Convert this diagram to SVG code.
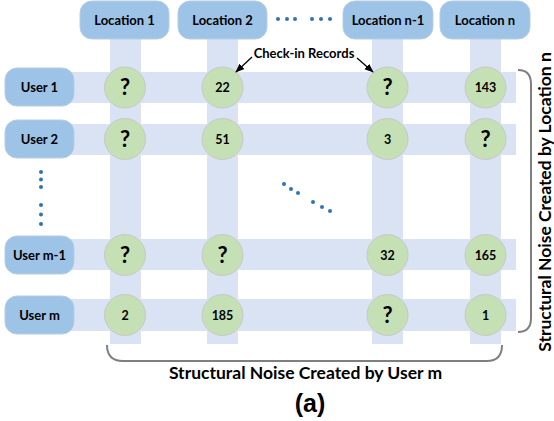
<svg xmlns="http://www.w3.org/2000/svg" width="554" height="421" viewBox="0 0 554 421">
  <defs>
    <style>
      .band { fill: #dae3f3; }
      .box { fill: #9dc3e6; stroke: #b8cde3; stroke-width: 1; }
      .cell { fill: #c5e0b4; stroke: #c8c8c8; stroke-width: 1; }
      .lbl { font-family: Lato, "Liberation Sans", sans-serif; font-weight: bold; font-size: 13px; fill: #000; text-anchor: middle; }
      .num { font-family: Lato, "Liberation Sans", sans-serif; font-weight: bold; font-size: 12.5px; fill: #000; text-anchor: middle; }
      .q { font-family: Lato, "Liberation Sans", sans-serif; font-weight: bold; font-size: 22px; fill: #000; text-anchor: middle; }
      .dot { fill: #2e75b6; }
      .brace { fill: none; stroke: #7f7f7f; stroke-width: 2; }
      .ptr { fill: none; stroke: #000; stroke-width: 1.3; marker-end: url(#head); }
      .cap { font-family: Lato, "Liberation Sans", sans-serif; font-weight: bold; font-size: 17.5px; fill: #000; text-anchor: middle; }
    </style>
    <marker id="head" viewBox="0 0 10 10" refX="9" refY="5" markerWidth="7" markerHeight="7" orient="auto">
      <path d="M0,1 L10,5 L0,9 Z" fill="#000"/>
    </marker>
  </defs>

  <!-- row and column bands -->
  <g id="bands">
    <rect class="band" x="110" y="38" width="31" height="306"/>
    <rect class="band" x="207" y="38" width="31" height="306"/>
    <rect class="band" x="372" y="38" width="31" height="306"/>
    <rect class="band" x="470" y="38" width="31" height="306"/>
    <rect class="band" x="40" y="72" width="476" height="31"/>
    <rect class="band" x="40" y="124" width="476" height="31"/>
    <rect class="band" x="40" y="239" width="476" height="31"/>
    <rect class="band" x="40" y="299" width="476" height="32"/>
  </g>

  <!-- location headers -->
  <g id="loc1"><rect class="box" x="80" y="1" width="89" height="38" rx="12"/><text class="lbl" x="124.5" y="25">Location 1</text></g>
  <g id="loc2"><rect class="box" x="178" y="1" width="89" height="38" rx="12"/><text class="lbl" x="222.5" y="25">Location 2</text></g>
  <g id="locn1"><rect class="box" x="343" y="1" width="90" height="38" rx="12"/><text class="lbl" x="388" y="25">Location n-1</text></g>
  <g id="locn"><rect class="box" x="440" y="1" width="90" height="38" rx="12"/><text class="lbl" x="485" y="25">Location n</text></g>

  <!-- user headers -->
  <g id="user1"><rect class="box" x="5" y="68" width="69" height="38" rx="12"/><text class="lbl" x="39.5" y="92">User 1</text></g>
  <g id="user2"><rect class="box" x="5" y="120" width="69" height="38" rx="12"/><text class="lbl" x="39.5" y="144">User 2</text></g>
  <g id="userm1"><rect class="box" x="5" y="236" width="69" height="38" rx="12"/><text class="lbl" x="39.5" y="260">User m-1</text></g>
  <g id="userm"><rect class="box" x="5" y="296" width="69" height="38" rx="12"/><text class="lbl" x="39.5" y="320">User m</text></g>

  <!-- ellipsis dots -->
  <g id="ellipses">
    <circle class="dot" cx="278" cy="19" r="2"/><circle class="dot" cx="287" cy="19" r="2"/><circle class="dot" cx="295" cy="19" r="2"/>
    <circle class="dot" cx="312" cy="19" r="2"/><circle class="dot" cx="321" cy="19" r="2"/><circle class="dot" cx="330" cy="19" r="2"/>
    <circle class="dot" cx="41" cy="172" r="2"/><circle class="dot" cx="41" cy="179.5" r="2"/><circle class="dot" cx="41" cy="187" r="2"/>
    <circle class="dot" cx="41" cy="205" r="2"/><circle class="dot" cx="41" cy="214.5" r="2"/><circle class="dot" cx="41" cy="224" r="2"/>
    <circle class="dot" cx="284" cy="184" r="2"/><circle class="dot" cx="291" cy="189" r="2"/><circle class="dot" cx="298" cy="193" r="2"/>
    <circle class="dot" cx="313" cy="202" r="2"/><circle class="dot" cx="322" cy="207" r="2"/><circle class="dot" cx="330" cy="211" r="2"/>
  </g>

  <!-- check-in cells -->
  <g id="r1c1"><circle class="cell" cx="125" cy="87.5" r="20.5"/><text class="q" x="125" y="95">?</text></g>
  <g id="r1c2"><circle class="cell" cx="222.5" cy="87.5" r="20.5"/><text class="num" x="222.5" y="92">22</text></g>
  <g id="r1c3"><circle class="cell" cx="387.5" cy="87.5" r="20.5"/><text class="q" x="387.5" y="95">?</text></g>
  <g id="r1c4"><circle class="cell" cx="485.5" cy="87.5" r="20.5"/><text class="num" x="485.5" y="92">143</text></g>

  <g id="r2c1"><circle class="cell" cx="125" cy="139" r="20.5"/><text class="q" x="125" y="146.5">?</text></g>
  <g id="r2c2"><circle class="cell" cx="222.5" cy="139" r="20.5"/><text class="num" x="222.5" y="143.5">51</text></g>
  <g id="r2c3"><circle class="cell" cx="387.5" cy="139" r="20.5"/><text class="num" x="387.5" y="143.5">3</text></g>
  <g id="r2c4"><circle class="cell" cx="485.5" cy="139" r="20.5"/><text class="q" x="485.5" y="146.5">?</text></g>

  <g id="r3c1"><circle class="cell" cx="125" cy="255" r="20.5"/><text class="q" x="125" y="262.5">?</text></g>
  <g id="r3c2"><circle class="cell" cx="222.5" cy="255" r="20.5"/><text class="q" x="222.5" y="262.5">?</text></g>
  <g id="r3c3"><circle class="cell" cx="387.5" cy="255" r="20.5"/><text class="num" x="387.5" y="259.5">32</text></g>
  <g id="r3c4"><circle class="cell" cx="485.5" cy="255" r="20.5"/><text class="num" x="485.5" y="259.5">165</text></g>

  <g id="r4c1"><circle class="cell" cx="125" cy="315" r="20.5"/><text class="num" x="125" y="319.5">2</text></g>
  <g id="r4c2"><circle class="cell" cx="222.5" cy="315" r="20.5"/><text class="num" x="222.5" y="319.5">185</text></g>
  <g id="r4c3"><circle class="cell" cx="387.5" cy="315" r="20.5"/><text class="q" x="387.5" y="322.5">?</text></g>
  <g id="r4c4"><circle class="cell" cx="485.5" cy="315" r="20.5"/><text class="num" x="485.5" y="319.5">1</text></g>

  <!-- callout pointers -->
  <g id="connectors">
    <path class="ptr" d="M252,57 L236,72"/>
    <path class="ptr" d="M357,58 L373,72"/>
  </g>
  <g id="callout"><text class="lbl" x="304" y="58">Check-in Records</text></g>

  <!-- braces and captions -->
  <g id="brace-right">
    <path class="brace" d="M518,70 Q531,70 531,84 L531,318 Q531,332 518,332"/>
    <text class="cap" transform="translate(551,202) rotate(-90)">Structural Noise Created by Location n</text>
  </g>
  <g id="brace-bottom">
    <path class="brace" d="M107,345 Q107,361 123,361 L487,361 Q502,361 502,345"/>
    <text class="cap" x="305.5" y="379">Structural Noise Created by User m</text>
  </g>
  <g id="caption"><text class="cap" x="310" y="412" style="font-family:'Liberation Sans',Arial,sans-serif;font-size:25px">(a)</text></g>
</svg>
